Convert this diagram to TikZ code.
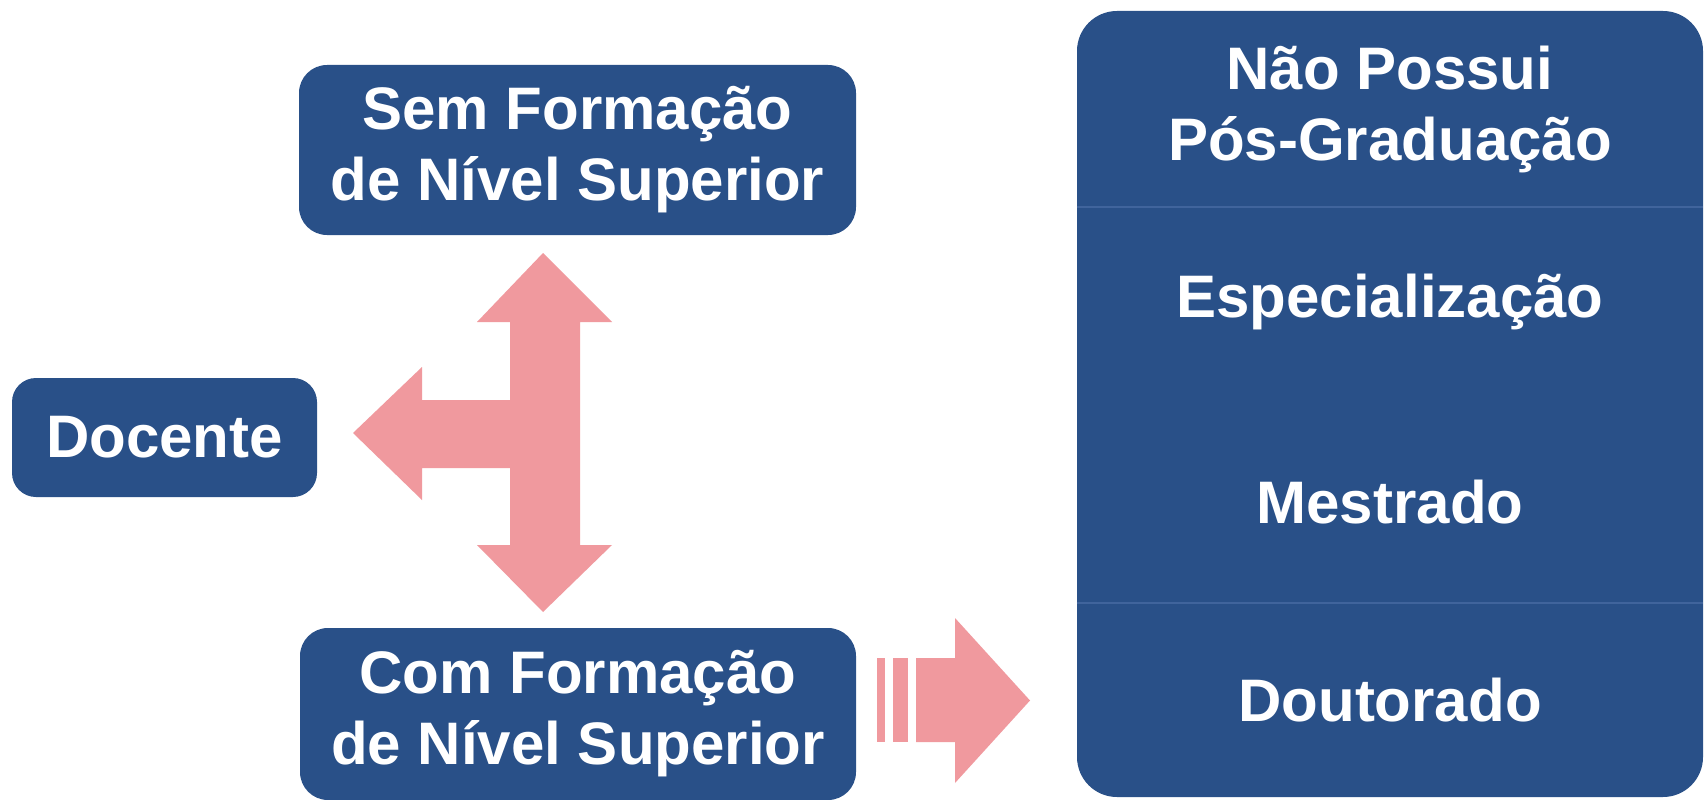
\documentclass[tikz,border=0pt]{standalone}
\usepackage{fontspec}
\setmainfont{Liberation Sans}
\definecolor{dblue}{RGB}{41,80,136}
\definecolor{divline}{RGB}{64,100,156}
\definecolor{pinkarr}{RGB}{240,153,158}
\begin{document}
\begin{tikzpicture}[x=1pt,y=-1pt,
  box/.style={fill=dblue, text=white, rounded corners=28pt, inner sep=0pt, align=center,
    font=\bfseries\fontsize{60}{71}\selectfont},
  lbl/.style={text=white, inner sep=0pt, align=center, font=\bfseries\fontsize{60}{71}\selectfont},
  arr/.style={fill=pinkarr, draw=none},
  divider/.style={draw=divline, line width=1.5pt}]
\fill[white] (0,0) rectangle (1708,800);
\useasboundingbox (0,0) rectangle (1708,800);

% boxes
\node[box, minimum width=557pt, minimum height=170pt] (sem) at (577.5,150) {Sem Formação\\de Nível Superior};
\node[box, minimum width=305pt, minimum height=119pt, rounded corners=24pt] (doc) at (164.5,437.5) {Docente};
\node[box, minimum width=556pt, minimum height=172pt] (com) at (578,714) {Com Formação\\de Nível Superior};
\node[box, minimum width=626pt, minimum height=786pt, rounded corners=40pt] (nivel) at (1390,404) {};

% dividers in the right box
\coordinate (d1) at (0,207);
\coordinate (d2) at (0,603);
\draw[divider] (nivel.west |- d1) -- (nivel.east |- d1);
\draw[divider] (nivel.west |- d2) -- (nivel.east |- d2);

% labels in the right box
\node[lbl] (np) at (1390,109) {Não Possui\\Pós-Graduação};
\node[lbl] (esp) at (1390,302) {Especialização};
\node[lbl] (mes) at (1390,502) {Mestrado};
\node[lbl] (dou) at (1390,700) {Doutorado};

% vertical double arrow
\fill[arr] (543,253) -- (612,322) -- (580,322) -- (580,545) -- (612,545) -- (543,612)
  -- (477,545) -- (510,545) -- (510,322) -- (477,322) -- cycle;
% left arrow
\fill[arr] (353,433) -- (422,367) -- (422,400) -- (512,400) -- (512,468) -- (422,468)
  -- (422,500) -- cycle;
% striped right arrow
\fill[arr] (877,658) rectangle (885,742);
\fill[arr] (893,658) rectangle (908,742);
\fill[arr] (916,658) -- (955,658) -- (955,618) -- (1030,700.5) -- (955,783) -- (955,742)
  -- (916,742) -- cycle;
\end{tikzpicture}
\end{document}
